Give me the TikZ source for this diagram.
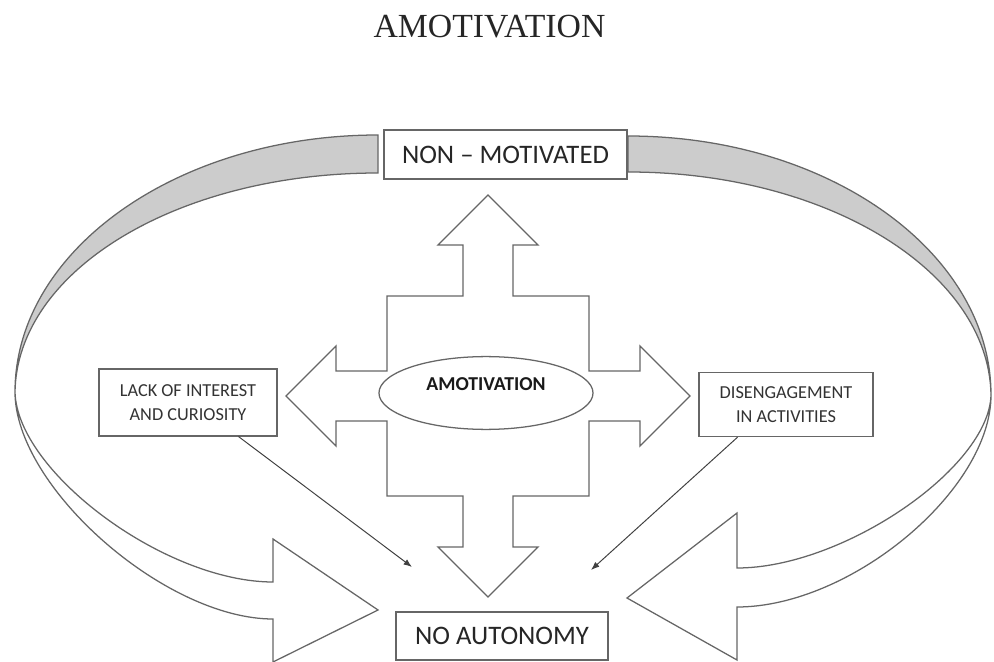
\documentclass[tikz,border=0pt]{standalone}
\usepackage{fontspec}
\setmainfont{Liberation Serif}
\setsansfont{Carlito}
\usetikzlibrary{arrows.meta,shapes.geometric}

\begin{document}
\begin{tikzpicture}[x=0.025cm,y=-0.025cm,
    line/.style={draw=black!60,line width=0.9pt},
    bigbox/.style={line,fill=white,text=black!85,inner sep=0pt,
        font=\sffamily\fontsize{19}{22}\selectfont},
    smallbox/.style={line,fill=white,text=black!80,inner sep=0pt,align=center,
        font=\sffamily\fontsize{13}{17}\selectfont}]
\useasboundingbox (0,0) rectangle (994,662);

\node[text=black!85,font=\fontsize{24}{28}\selectfont] (title) at (489.5,27) {AMOTIVATION};

% curved arrows, back side shaded
\filldraw[line,fill=black!20] (378,135) .. controls (178,135) and (15,250) .. (15,392)
    .. controls (17,270) and (178,173) .. (378,173) -- cycle;
\filldraw[line,fill=white] (15,392) .. controls (15,487) and (165,619) .. (273,619)
    -- (273,662) -- (378,610) -- (273,539) -- (273,582)
    .. controls (165,582) and (17,472) .. cycle;
\filldraw[line,fill=black!20] (628,136) .. controls (828,136) and (991,252) .. (991,395)
    .. controls (989,272) and (828,172) .. (628,172) -- cycle;
\filldraw[line,fill=white] (991,395) .. controls (991,490) and (851,607) .. (737,607)
    -- (737,660) -- (627,598) -- (737,513) -- (737,568)
    .. controls (843,568) and (989,468) .. cycle;

% four-way arrow
\filldraw[line,fill=white] (488,195) -- (538,245) -- (513,245) -- (513,296) -- (589,296)
    -- (589,371) -- (640,371) -- (640,346) -- (690,396) -- (640,446) -- (640,421)
    -- (589,421) -- (589,496) -- (513,496) -- (513,547) -- (538,547) -- (488,597)
    -- (438,547) -- (463,547) -- (463,496) -- (387,496) -- (387,421) -- (336,421)
    -- (336,446) -- (286,396) -- (336,346) -- (336,371) -- (387,371) -- (387,296)
    -- (463,296) -- (463,245) -- (438,245) -- cycle;
\node[ellipse,line,fill=white,minimum width=5.35cm,minimum height=1.82cm,
    label={[font=\sffamily\bfseries\fontsize{14}{16}\selectfont,text=black!90,yshift=6pt]center:AMOTIVATION}]
    (amo) at (486,393) {};

\node[bigbox,minimum width=6.07cm,minimum height=1.22cm] (nonmot) at (505.5,154.5) {NON -- MOTIVATED};
\node[bigbox,minimum width=5.3cm,minimum height=1.2cm] (noaut) at (502,636) {NO AUTONOMY};
\node[smallbox,minimum width=4.45cm,minimum height=1.67cm] (lack) at (188,402.5)
    {LACK OF INTEREST\\AND CURIOSITY};
\node[smallbox,minimum width=4.35cm,minimum height=1.6cm] (diseng) at (786,404.5)
    {DISENGAGEMENT\\IN ACTIVITIES};

\coordinate (lackend) at (412,567);
\coordinate (disend) at (591,570);
\draw[black!75,line width=0.7pt,-{Latex[length=6pt,width=4.5pt]}] (lack.-34) -- (lackend);
\draw[black!75,line width=0.7pt,-{Latex[length=6pt,width=4.5pt]}] (diseng.-146) -- (disend);

\end{tikzpicture}
\end{document}
